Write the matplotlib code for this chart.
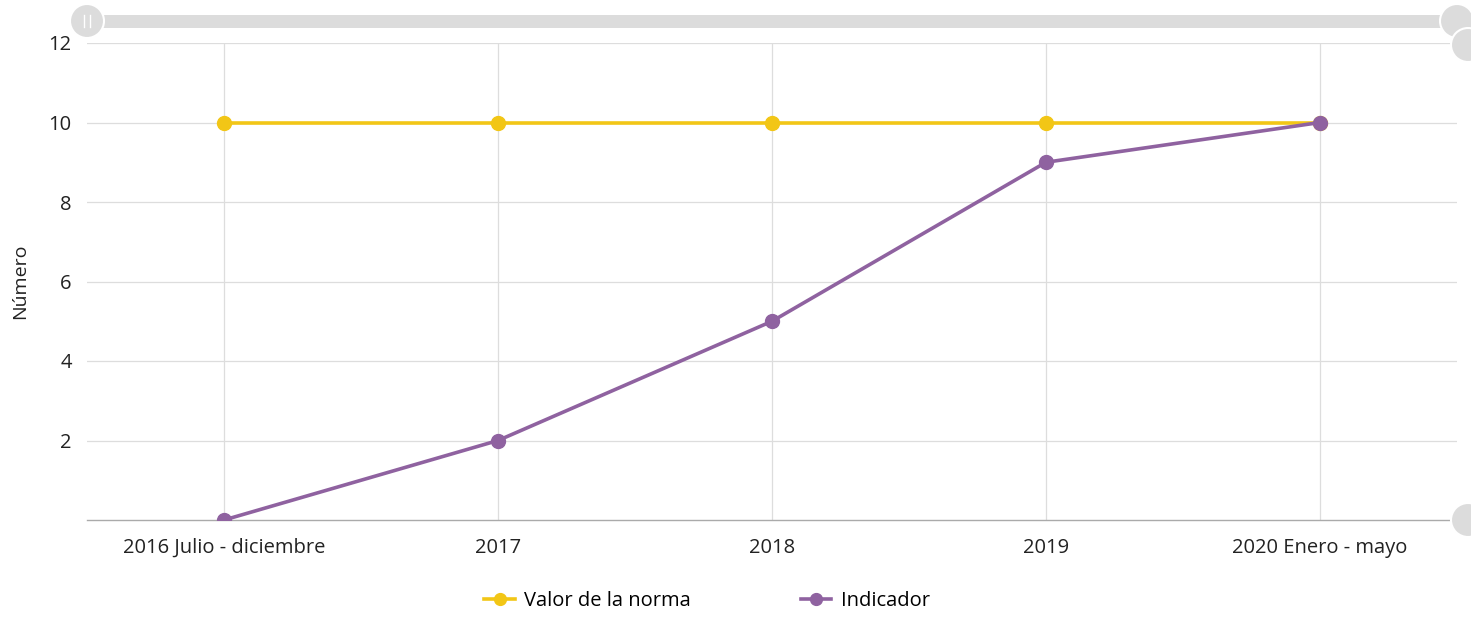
import matplotlib
matplotlib.use("Agg")
import matplotlib.pyplot as plt
from matplotlib.patches import Circle, FancyBboxPatch

# data
categories = ["2016 Julio - diciembre", "2017", "2018", "2019", "2020 Enero - mayo"]
norma = [10, 10, 10, 10, 10]
indicador = [0, 2, 5, 9, 10]
y_ticks = [2, 4, 6, 8, 10, 12]

plt.rcParams['font.family'] = ['Open Sans', 'DejaVu Sans']

W, H = 1471, 623
fig = plt.figure(figsize=(W / 100, H / 100), dpi=100)
ax = fig.add_axes([87 / W, 1 - 520 / H, (1457 - 87) / W, (520 - 43) / H])

x = list(range(len(categories)))
yellow = "#F2C616"
purple = "#8F62A0"
ax.plot(x, norma, color=yellow, lw=2.6, marker="o", ms=10, label="Valor de la norma", zorder=3)
ax.plot(x, indicador, color=purple, lw=2.6, marker="o", ms=10, label="Indicador", zorder=4)

ax.set_xlim(-0.5, len(categories) - 0.5)
ax.set_ylim(0, 12)
ax.set_xticks(x)
ax.set_xticklabels(categories)
ax.set_yticks(y_ticks)
ax.tick_params(axis="both", length=0, labelsize=14.5, colors="#222222")
ax.tick_params(axis="x", pad=13)
ax.tick_params(axis="y", pad=11)
ax.grid(True, color="#dddddd", lw=0.9)
ax.set_axisbelow(True)
for s in ["top", "right", "left"]:
    ax.spines[s].set_visible(False)
ax.spines["bottom"].set_color("#aaaaaa")
ax.spines["bottom"].set_linewidth(1.0)
ax.set_ylabel("Número", fontsize=14, color="#222222", labelpad=14)

fig.legend(loc="center", bbox_to_anchor=(707 / W, 1 - 601 / H), ncol=2, frameon=False,
           fontsize=14.5, columnspacing=5.5, handlelength=1.5, handletextpad=0.45,
           markerscale=0.85)

# scrollbar decorations (overlay in pixel coordinates)
ov = fig.add_axes([0, 0, 1, 1], zorder=10)
ov.set_xlim(0, W)
ov.set_ylim(H, 0)
ov.axis("off")
ov.add_patch(FancyBboxPatch((87, 15), 1457 - 87, 13, boxstyle="square,pad=0",
                            fc="#dcdcdc", ec="none"))
for cx, cy in [(87, 21), (1457, 21), (1468, 45), (1468, 520)]:
    ov.add_patch(Circle((cx, cy), 17, fc="#dcdcdc", ec="white", lw=1.5))
ov.plot([84, 84], [15, 27], color="white", lw=1)
ov.plot([90, 90], [15, 27], color="white", lw=1)

fig.savefig("out.png", dpi=100)
